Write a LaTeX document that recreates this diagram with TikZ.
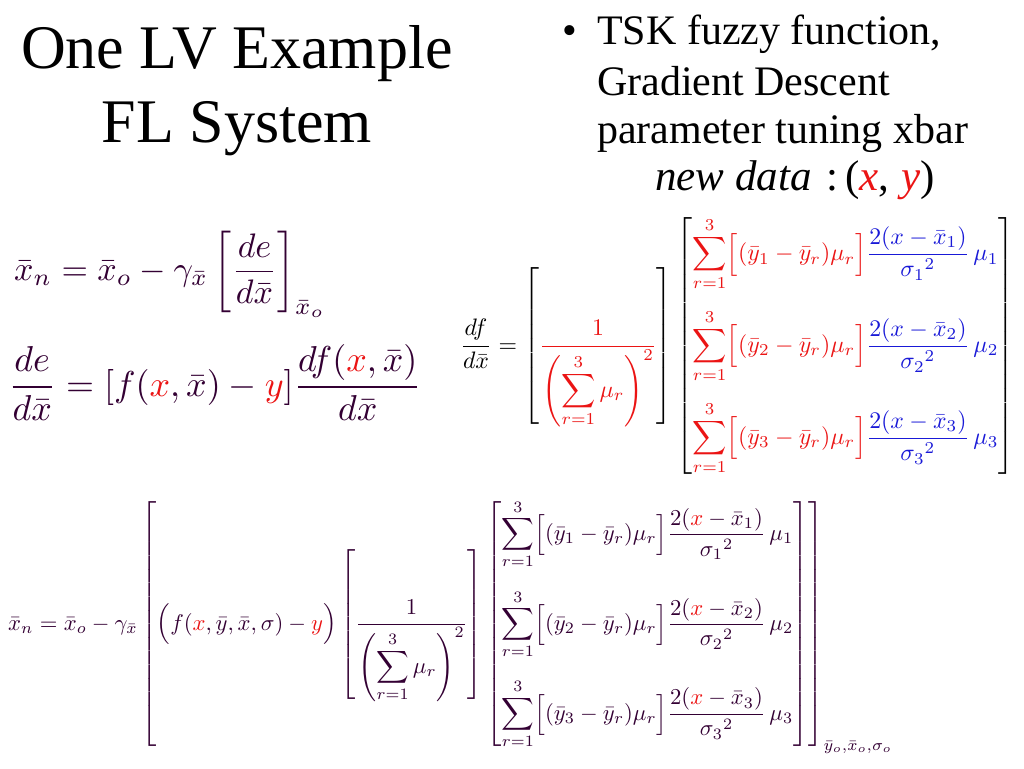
\documentclass[tikz,border=0pt]{standalone}
\usepackage{amsmath}
\usepackage{graphicx}
\usepackage{fontspec}
\setmainfont{Liberation Serif}
\usepackage{xcolor}
\usetikzlibrary{positioning}

\definecolor{eqpurple}{RGB}{51,0,51}
\definecolor{eqred}{RGB}{235,20,20}
\definecolor{eqblue}{RGB}{25,25,215}

% one row of the column: sum part, fraction part, colour of x
\newcommand{\termrow}[4]{\displaystyle\textcolor{#2}{\sum_{r=1}^{3}\Bigl[(\bar{y}_{#1}-\bar{y}_{r})\mu_{r}\Bigr]}\textcolor{#3}{\frac{2(\textcolor{#4}{x}-\bar{x}_{#1})}{\sigma_{#1}{}^{2}}\,\mu_{#1}}}

\begin{document}
\begin{tikzpicture}[x=1pt,y=-1pt,
				titlenode/.style={font=\fontsize{62}{77}\selectfont, inner sep=0pt, anchor=base},
				bulletnode/.style={font=\fontsize{42}{49}\selectfont, inner sep=0pt, anchor=base west},
				eqnode/.style={inner sep=0pt, anchor=base west, text=eqpurple},
				]
				\useasboundingbox (0,0) rectangle (1024,768);
				%Title
				\node[titlenode](titleA) at (237,68){One LV Example};
				\node[titlenode](titleB) at (237,142){FL System};
				
				%Bullet
				\node[bulletnode](dot) at (562,45){•};
				\node[bulletnode](lineA) at (597,45){TSK fuzzy function,};
				\node[bulletnode](lineB) at (597,95){Gradient Descent};
				\node[bulletnode](lineC) at (597,143){parameter tuning xbar};
				\node[bulletnode, font=\fontsize{43}{48}\selectfont](newdata) at (655,190){\textit{new data}\,\,:\,(\textcolor{eqred}{\textit{x}},\;\textcolor{eqred}{\textit{y}})};
				
				%Equations
				\node[eqnode](update) at (14,280){\scalebox{3.4}{$\displaystyle \bar{x}_n=\bar{x}_o-\gamma_{\bar{x}}\left[\frac{de}{d\bar{x}}\right]_{\bar{x}_o}$}};
				\node[eqnode](chain) at (8,396){\scalebox{3.6}{$\displaystyle \frac{de}{d\bar{x}}=[f(\textcolor{eqred}{x},\bar{x})-\textcolor{eqred}{y}]\frac{df(\textcolor{eqred}{x},\bar{x})}{d\bar{x}}$}};
				\node[eqnode, text=black](deriv) at (460,352){\scalebox{2.38}{$\displaystyle \frac{df}{d\bar{x}}=\left[\textcolor{eqred}{\frac{1}{\left(\displaystyle\sum_{r=1}^{3}\mu_{r}\right)^{2}}}\right]
					\begin{bmatrix}\termrow{1}{eqred}{eqblue}{eqblue}\\[17pt]\termrow{2}{eqred}{eqblue}{eqblue}\\[17pt]\termrow{3}{eqred}{eqblue}{eqblue}\end{bmatrix}$}};
				\node[eqnode](full) at (8,630){\scalebox{2.27}{$\displaystyle \bar{x}_n=\bar{x}_o-\gamma_{\bar{x}}\left[\Bigl(f(\textcolor{eqred}{x},\bar{y},\bar{x},\sigma)-\textcolor{eqred}{y}\Bigr)\left[\frac{1}{\left(\displaystyle\sum_{r=1}^{3}\mu_{r}\right)^{2}}\right]
					\begin{bmatrix}\termrow{1}{eqpurple}{eqpurple}{eqred}\\[18pt]\termrow{2}{eqpurple}{eqpurple}{eqred}\\[18pt]\termrow{3}{eqpurple}{eqpurple}{eqred}\end{bmatrix}\right]_{\bar{y}_o,\bar{x}_o,\sigma_o}$}};
			\end{tikzpicture}
\end{document}
